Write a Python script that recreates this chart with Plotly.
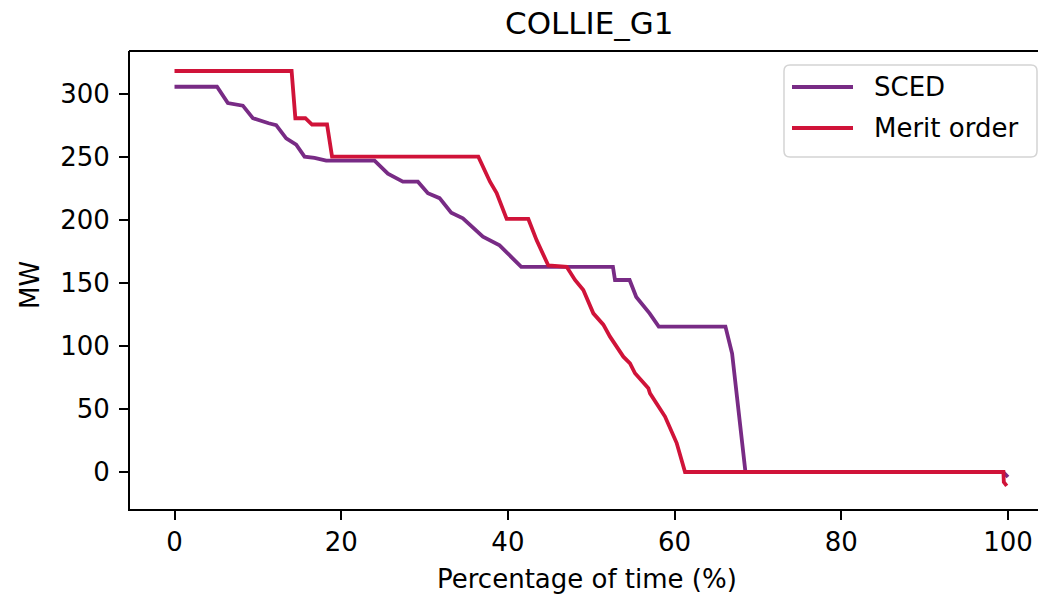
import plotly.graph_objects as go

# ---- data ----
sced_x = [0, 5.1, 6.4, 7.2, 8.2, 9.4, 10.6, 11.3, 12.2, 13.4, 14.6, 15.6, 16.8, 18.2, 24.0,
          25.6, 27.4, 29.2, 30.4, 31.8, 33.2, 34.6, 37.0, 39.0, 41.6, 52.6, 52.85, 54.6,
          55.4, 57.0, 58.1, 66.1, 66.9, 67.5, 68.2, 68.5, 99.4, 100]
sced_y = [306, 306, 293, 292, 291, 281, 278, 277, 275.5, 265, 260, 250.5, 249.5, 247.3, 247.3,
          237, 230.6, 230.6, 221.5, 217.5, 206, 201.5, 187, 180, 163, 163, 152.5, 152.5,
          139, 126, 115.5, 115.5, 94, 60, 15, 0, 0, -4]

merit_x = [0, 14.05, 14.5, 15.7, 16.5, 18.3, 18.9, 36.45, 37.85, 38.65, 39.85, 42.45, 43.45,
           44.85, 47.05, 48.05, 49.05, 50.25, 51.45, 52.25, 53.85, 54.65, 55.25, 56.85, 57.05,
           58.85, 60.25, 61.25, 99.45, 99.5, 99.85]
merit_y = [318.5, 318.5, 281, 281, 276, 276, 250.5, 250.5, 230.6, 221.6, 201, 201, 184,
           164, 163, 152.5, 144.6, 126, 117, 107.5, 91.6, 86.3, 78.4, 66.5, 62.5,
           44, 23, 0, 0, -8, -11]

series_names = ["SCED", "Merit order"]
series_colors = ["#782b85", "#d01339"]
title_text = "COLLIE_G1"
x_label = "Percentage of time (%)"
y_label = "MW"
x_ticks = [0, 20, 40, 60, 80, 100]
y_ticks = [0, 50, 100, 150, 200, 250, 300]

W, H = 1038, 594
L, R, T, B = 130, 0, 51, 85
FONT = "DejaVu Sans"
LW = 3.8

fig = go.Figure()
fig.add_trace(go.Scatter(x=sced_x, y=sced_y, mode="lines", name=series_names[0],
                         line=dict(color=series_colors[0], width=LW)))
fig.add_trace(go.Scatter(x=merit_x, y=merit_y, mode="lines", name=series_names[1],
                         line=dict(color=series_colors[1], width=LW)))

axis_common = dict(showgrid=False, zeroline=False, showline=True, linecolor="black",
                   linewidth=2, ticks="outside", ticklen=9, tickwidth=2, tickcolor="black",
                   automargin=False, mirror=False,
                   tickfont=dict(family=FONT, size=26, color="black"))

fig.update_layout(
    width=W, height=H,
    margin=dict(l=L, r=R, t=T, b=B, pad=0, autoexpand=False),
    paper_bgcolor="white", plot_bgcolor="white",
    showlegend=False,
    xaxis=dict(range=[-5.34, 103.6], tickvals=x_ticks, **axis_common),
    yaxis=dict(range=[-29.4, 334.4], tickvals=y_ticks, ticklabelstandoff=4, **axis_common),
)

pw = W - L - R
ph = H - T - B

def px2x(px):
    return (px - L) / pw

def py2y(py):
    return (H - B - py) / ph

# top spine
fig.add_shape(type="line", xref="paper", yref="paper", x0=px2x(129), x1=1.01, y0=1, y1=1,
              line=dict(color="black", width=2))

# title and axis labels
fig.add_annotation(text=title_text, xref="paper", yref="paper", x=px2x(589), y=py2y(23),
                   showarrow=False, xanchor="center", yanchor="middle",
                   font=dict(family=FONT, size=31, color="black"))
fig.add_annotation(text=x_label, xref="paper", yref="paper", x=px2x(587), y=py2y(579),
                   showarrow=False, xanchor="center", yanchor="middle",
                   font=dict(family=FONT, size=26, color="black"))
fig.add_annotation(text=y_label, xref="paper", yref="paper", x=px2x(30), y=py2y(285),
                   showarrow=False, xanchor="center", yanchor="middle", textangle=-90,
                   font=dict(family=FONT, size=26, color="black"))

# legend box (rounded)
bx0, bx1, by0, by1, rad = 784, 1037, 65, 157, 6
def P(px, py):
    return f"{px2x(px):.5f},{py2y(py):.5f}"
path = (f"M {P(bx0+rad, by0)} L {P(bx1-rad, by0)} Q {P(bx1, by0)} {P(bx1, by0+rad)} "
        f"L {P(bx1, by1-rad)} Q {P(bx1, by1)} {P(bx1-rad, by1)} "
        f"L {P(bx0+rad, by1)} Q {P(bx0, by1)} {P(bx0, by1-rad)} "
        f"L {P(bx0, by0+rad)} Q {P(bx0, by0)} {P(bx0+rad, by0)} Z")
fig.add_shape(type="path", path=path, xref="paper", yref="paper",
              line=dict(color="#d4d4d4", width=1.5), fillcolor="rgba(255,255,255,0.85)")
for i, (name, col) in enumerate(zip(series_names, series_colors)):
    yy = 87 + i * 41
    fig.add_shape(type="line", xref="paper", yref="paper", x0=px2x(792), x1=px2x(853),
                  y0=py2y(yy), y1=py2y(yy), line=dict(color=col, width=LW))
    fig.add_annotation(text=name, xref="paper", yref="paper", x=px2x(872), y=py2y(yy),
                       showarrow=False, xanchor="left", yanchor="middle",
                       font=dict(family=FONT, size=26, color="black"))

fig.write_html("out.html")
